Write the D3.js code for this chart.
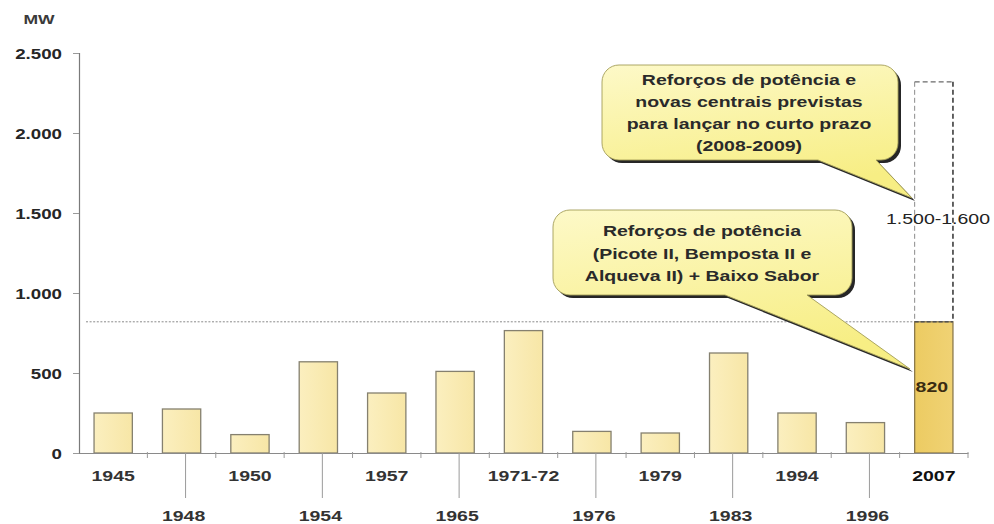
<!DOCTYPE html>
<html>
<head>
<meta charset="utf-8">
<script src="https://cdn.jsdelivr.net/npm/d3@7/dist/d3.min.js"></script>
<style>
  html, body { margin: 0; padding: 0; background: #ffffff; }
  svg { display: block; }
  text { font-family: "Liberation Sans", Arial, sans-serif; }
</style>
</head>
<body>
<svg id="chart" width="994" height="524"></svg>
<script>
// Installed hydro capacity added per commissioning period (MW)
const categories = ["1945", "1948", "1950", "1954", "1957", "1965", "1971-72", "1976", "1979", "1983", "1994", "1996", "2007"];
const capacityMW = [250, 275, 115, 570, 375, 510, 765, 135, 125, 625, 250, 190, 820];
const yTicks = [0, 500, 1000, 1500, 2000, 2500];
// Additional planned capacity stacked on the 2007 bar
const plannedMW = [1500, 1600];
const plannedLabel = "1.500-1.600";
const unitLabel = "MW";
const noteNearTerm = ["Reforços de potência e", "novas centrais previstas", "para lançar no curto prazo", "(2008-2009)"];
const noteUpgrades = ["Reforços de potência", "(Picote II, Bemposta II e", "Alqueva II) + Baixo Sabor"];

const SX = 1.3; // wide lettering
const svg = d3.select("#chart");
const pt = d3.formatLocale({ decimal: ",", thousands: ".", grouping: [3], currency: ["", " €"] }).format(",");

const x = d3.scaleBand().domain(categories).range([79, 968]).paddingInner(0.44).paddingOuter(0.22);
const y = d3.scaleLinear().domain([0, 2500]).range([453, 53]);

const defs = svg.append("defs");
const gBar = defs.append("linearGradient").attr("id", "barFill").attr("x1", 0).attr("x2", 1).attr("y1", 0).attr("y2", 0);
gBar.append("stop").attr("offset", 0).attr("stop-color", "#fbefbf");
gBar.append("stop").attr("offset", 1).attr("stop-color", "#f7e6a6");
const gLast = defs.append("linearGradient").attr("id", "lastFill").attr("x1", 0).attr("x2", 1).attr("y1", 0).attr("y2", 0);
gLast.append("stop").attr("offset", 0).attr("stop-color", "#eccb62");
gLast.append("stop").attr("offset", 1).attr("stop-color", "#f0d274");
const gNote = defs.append("linearGradient").attr("id", "noteFill").attr("x1", 0).attr("x2", 0.3).attr("y1", 0).attr("y2", 1);
gNote.append("stop").attr("offset", 0).attr("stop-color", "#fdf9c8");
gNote.append("stop").attr("offset", 1).attr("stop-color", "#f7ee84");
defs.append("filter").attr("id", "soft").append("feGaussianBlur").attr("stdDeviation", 0.7);

function wideText(sel, tx, ty, str, opts) {
  const o = Object.assign({ size: 15, weight: "bold", anchor: "middle", fill: "#262626" }, opts || {});
  return sel.append("text")
    .attr("transform", `translate(${tx},${ty}) scale(${SX},1)`)
    .attr("text-anchor", o.anchor)
    .attr("font-size", o.size)
    .attr("font-weight", o.weight)
    .attr("fill", o.fill)
    .text(str);
}

// Y axis
const yAxis = svg.append("g").attr("transform", `translate(${x.range()[0]},0)`)
  .call(d3.axisLeft(y).tickValues(yTicks).tickSize(6).tickPadding(0).tickFormat(d => pt(d)));
yAxis.select(".domain").attr("stroke", "#7a7a7a").attr("stroke-width", 1.2);
yAxis.selectAll(".tick line").attr("stroke", "#9a9a9a");
yAxis.selectAll(".tick text")
  .attr("x", null).attr("dy", "0.35em")
  .attr("transform", `translate(-17,0) scale(${SX * 0.96},1)`)
  .attr("font-size", 15).attr("font-weight", "bold")
  .attr("font-family", "Liberation Sans, Arial, sans-serif")
  .attr("fill", "#262626").attr("text-anchor", "end");

wideText(svg, 39, 24, unitLabel, { size: 13.5, fill: "#3a3a3a" });

// Reference line at the latest value
const lastIdx = categories.length - 1;
const lastVal = capacityMW[lastIdx];
svg.append("line")
  .attr("x1", 86).attr("x2", x(categories[lastIdx]))
  .attr("y1", y(lastVal)).attr("y2", y(lastVal))
  .attr("stroke", "#8a8a8a").attr("stroke-width", 1).attr("stroke-dasharray", "2,1.6");

// Bars
svg.append("g").selectAll("rect").data(categories).join("rect")
  .attr("x", d => x(d))
  .attr("width", x.bandwidth())
  .attr("y", (d, i) => y(capacityMW[i]))
  .attr("height", (d, i) => y(0) - y(capacityMW[i]))
  .attr("fill", (d, i) => i === lastIdx ? "url(#lastFill)" : "url(#barFill)")
  .attr("stroke", (d, i) => i === lastIdx ? "#8c7a4c" : "#85806f")
  .attr("stroke-width", 1.3);

// Planned capacity outline above the 2007 bar
const bx0 = x(categories[lastIdx]), bx1 = bx0 + x.bandwidth();
const yTop = y(lastVal + plannedMW[0]);
const box = svg.append("g");
box.append("line").attr("x1", bx0).attr("x2", bx1).attr("y1", yTop).attr("y2", yTop)
  .attr("stroke", "#6a6a6a").attr("stroke-width", 1.2).attr("stroke-dasharray", "5,3");
box.append("line").attr("x1", bx0).attr("x2", bx0).attr("y1", yTop).attr("y2", y(lastVal))
  .attr("stroke", "#8a8a8a").attr("stroke-width", 1).attr("stroke-dasharray", "5,3");
box.append("line").attr("x1", bx1).attr("x2", bx1).attr("y1", yTop).attr("y2", y(lastVal))
  .attr("stroke", "#3e3e3e").attr("stroke-width", 1.6).attr("stroke-dasharray", "5,3");
box.append("line").attr("x1", bx0).attr("x2", bx1).attr("y1", y(lastVal)).attr("y2", y(lastVal))
  .attr("stroke", "#555").attr("stroke-width", 1.4).attr("stroke-dasharray", "4,2");

// X axis
const xAxis = svg.append("g").attr("transform", `translate(0,${y(0)})`)
  .call(d3.axisBottom(x).tickSize(0).tickFormat(""));
xAxis.select(".domain").attr("stroke", "#8a8a8a").attr("stroke-width", 1.2);
const step = x.step();
svg.append("g").selectAll("line").data(d3.range(1, categories.length + 1)).join("line")
  .attr("x1", k => x.range()[0] + k * step).attr("x2", k => x.range()[0] + k * step)
  .attr("y1", y(0) - 1).attr("y2", y(0) + 5)
  .attr("stroke", "#9a9a9a").attr("stroke-width", 1);

// Category labels, alternating rows
const xl = svg.append("g");
categories.forEach((c, i) => {
  const cx = x(c) + x.bandwidth() / 2;
  if (i % 2 === 0) {
    wideText(xl, cx, 481, c, { fill: i === lastIdx ? "#111" : "#333" });
  } else {
    xl.append("line").attr("x1", cx + 4).attr("x2", cx + 4).attr("y1", y(0)).attr("y2", 498)
      .attr("stroke", "#9a9a9a").attr("stroke-width", 1);
    wideText(xl, cx + 2, 521, c, { fill: "#333" });
  }
});

// Value labels
wideText(svg, bx0 + x.bandwidth() / 2 - 2, 392, pt(lastVal), { fill: "#3a2c12" });
wideText(svg, 938, 224, plannedLabel, { weight: "normal", fill: "#222" });

// Callout bubbles
function bubblePath(x0, y0, x1, y1, r, ta, tb, tx, ty) {
  return `M${x0 + r},${y0} H${x1 - r} A${r},${r} 0 0 1 ${x1},${y0 + r} V${y1 - r} ` +
    `A${r},${r} 0 0 1 ${x1 - r},${y1} H${tb} L${tx},${ty} L${ta},${y1} H${x0 + r} ` +
    `A${r},${r} 0 0 1 ${x0},${y1 - r} V${y0 + r} A${r},${r} 0 0 1 ${x0 + r},${y0} Z`;
}
function callout(geom, lines, cx, baselines) {
  const g = svg.append("g");
  const d = bubblePath(...geom);
  g.append("path").attr("d", d).attr("transform", "translate(3,3)")
    .attr("fill", "#262626").attr("filter", "url(#soft)");
  g.append("path").attr("d", d).attr("fill", "url(#noteFill)")
    .attr("stroke", "#a39d58").attr("stroke-width", 0.9);
  lines.forEach((t, i) => wideText(g, cx, baselines[i], t, { fill: "#2a2a2a" }));
}
callout([602, 65, 898, 160, 17, 818, 876, 912, 198], noteNearTerm, 749, [85, 107, 129, 151]);
callout([553, 210, 852, 295, 17, 725, 807, 910, 369], noteUpgrades, 702, [236, 259, 281]);
</script>
</body>
</html>
